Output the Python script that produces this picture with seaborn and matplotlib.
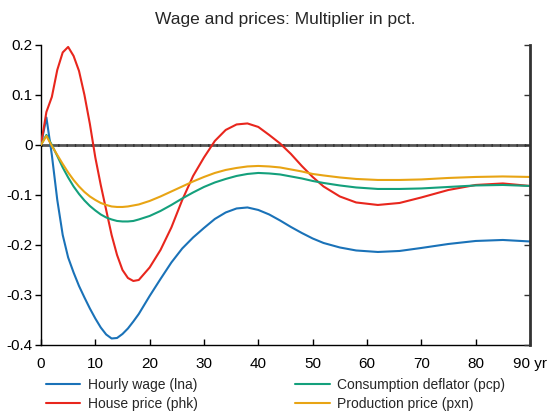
import pandas as pd
import matplotlib
matplotlib.use("Agg")
import matplotlib.pyplot as plt
import seaborn as sns

# Multiplier data
years = [0, 1, 2, 3, 4, 5, 6, 7, 8, 9, 10, 11, 12, 13, 14, 15, 16, 17, 18, 20, 22,
         24, 26, 28, 30, 32, 34, 36, 38, 40, 42, 44, 46, 48, 50, 52, 55, 58, 62, 66,
         70, 75, 80, 85, 90]
lna = [0, 0.055, -0.02, -0.11, -0.18, -0.225, -0.255, -0.282, -0.305, -0.327, -0.347,
       -0.365, -0.379, -0.387, -0.386, -0.378, -0.367, -0.353, -0.338, -0.302, -0.268,
       -0.235, -0.207, -0.185, -0.166, -0.148, -0.135, -0.127, -0.125, -0.13, -0.139,
       -0.151, -0.164, -0.176, -0.187, -0.196, -0.205, -0.211, -0.214, -0.212,
       -0.206, -0.198, -0.192, -0.19, -0.193]
phk = [0, 0.066, 0.096, 0.15, 0.185, 0.196, 0.178, 0.148, 0.1, 0.042, -0.025, -0.08,
       -0.13, -0.18, -0.22, -0.25, -0.266, -0.272, -0.27, -0.245, -0.21, -0.165, -0.11,
       -0.062, -0.025, 0.008, 0.03, 0.041, 0.043, 0.036, 0.02, 0.003, -0.018, -0.042,
       -0.064, -0.083, -0.103, -0.115, -0.12, -0.116, -0.105, -0.09, -0.08, -0.077,
       -0.082]
pcp = [0, 0.02, 0.0, -0.022, -0.045, -0.065, -0.083, -0.098, -0.111, -0.122, -0.131,
       -0.139, -0.145, -0.149, -0.152, -0.153, -0.153, -0.152, -0.149, -0.142, -0.132,
       -0.12, -0.107, -0.095, -0.084, -0.075, -0.068, -0.062, -0.058, -0.056, -0.057,
       -0.059, -0.063, -0.067, -0.072, -0.076, -0.081, -0.085, -0.088, -0.088, -0.087,
       -0.084, -0.081, -0.08, -0.082]
pxn = [0, 0.018, -0.002, -0.02, -0.038, -0.055, -0.07, -0.083, -0.094, -0.103, -0.11,
       -0.116, -0.12, -0.123, -0.124, -0.124, -0.123, -0.121, -0.119, -0.112, -0.103,
       -0.093, -0.083, -0.073, -0.064, -0.056, -0.05, -0.046, -0.043, -0.042, -0.043,
       -0.045, -0.049, -0.053, -0.058, -0.061, -0.065, -0.068, -0.07, -0.07, -0.069,
       -0.066, -0.064, -0.063, -0.064]

labels = ["Hourly wage (lna)", "House price (phk)",
          "Consumption deflator (pcp)", "Production price (pxn)"]
colors = ["#1a72b8", "#e8261d", "#14a07c", "#e8a414"]
xticks = [0, 10, 20, 30, 40, 50, 60, 70, 80, 90]
xticklabels = ["0", "10", "20", "30", "40", "50", "60", "70", "80", "90 yr"]
yticks = [-0.4, -0.3, -0.2, -0.1, 0, 0.1, 0.2]
yticklabels = ["-0.4", "-0.3", "-0.2", "-0.1", "0", "0.1", "0.2"]

df = pd.concat([
    pd.DataFrame({"year": years, "value": vals, "series": lab})
    for vals, lab in zip([lna, phk, pcp, pxn], labels)
])

sns.set_style("white")
plt.rcParams["font.family"] = ["Liberation Sans", "DejaVu Sans"]

fig = plt.figure(figsize=(5.5, 4.16), dpi=100)
ax = fig.add_axes([0.0745, 0.1707, 0.8891, 0.7213])

# zero line
ax.axhline(0, color="#555555", lw=2, zorder=1)
ax.axhline(0, color="#333333", lw=2, dashes=(0.5, 2.5), zorder=1)

sns.lineplot(data=df, x="year", y="value", hue="series", hue_order=labels,
             palette=colors, linewidth=1.5, ax=ax, legend=False, zorder=3)

ax.set_xlim(0, 90)
ax.set_ylim(-0.4, 0.2)
ax.set_xticks(xticks)
ax.set_xticklabels(xticklabels)
ax.set_yticks(yticks)
ax.set_yticklabels(yticklabels)
ax.set_xlabel("")
ax.set_ylabel("")
ax.tick_params(axis="x", direction="in", length=4, width=1, pad=9,
               labelsize=11, colors="black", bottom=True)
ax.tick_params(axis="y", direction="out", length=4, width=1, pad=2,
               labelsize=11, colors="black", left=True)
ax.spines["top"].set_visible(False)
ax.spines["right"].set_visible(False)
ax.spines["left"].set_color("black")
ax.spines["bottom"].set_color("black")
ax.spines["left"].set_linewidth(1)
ax.spines["bottom"].set_linewidth(1)

# right axis with inward ticks
ax2 = ax.twinx()
ax2.set_ylim(-0.4, 0.2)
ax2.set_yticks(yticks)
ax2.tick_params(axis="y", direction="in", length=4, width=1,
                labelright=False, color="#333333")
for s in ["top", "left", "bottom"]:
    ax2.spines[s].set_visible(False)
ax2.spines["right"].set_color("#333333")
ax2.spines["right"].set_linewidth(2)

ax.set_title("Wage and prices: Multiplier in pct.", fontsize=12.5, pad=15)

handles = [plt.Line2D([], [], color=c, lw=1.5) for c in colors]
fig.legend(handles, labels, loc="upper left", bbox_to_anchor=(0.083, 0.092),
           ncol=2, frameon=False, fontsize=10, handlelength=2.5,
           columnspacing=7.0, labelspacing=0.35, borderpad=0, borderaxespad=0,
           handletextpad=0.55)

fig.savefig("out.png", dpi=100)
